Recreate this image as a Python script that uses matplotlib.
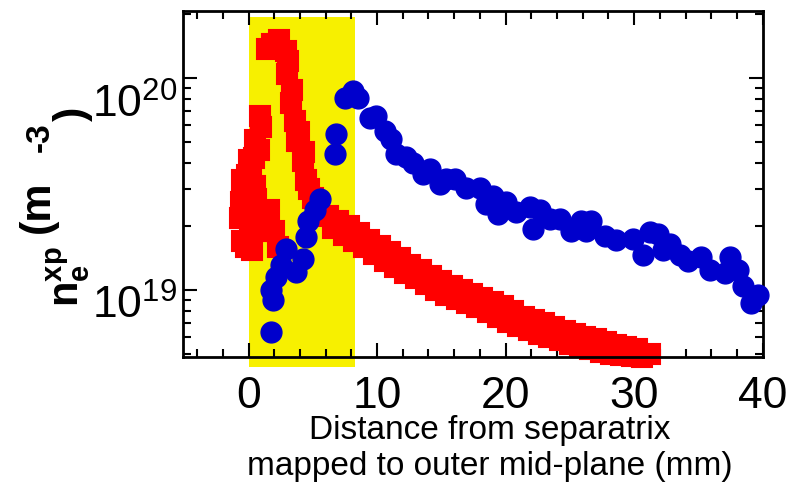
import matplotlib
matplotlib.use("Agg")
import matplotlib.pyplot as plt
from matplotlib.ticker import MultipleLocator, LogLocator, NullFormatter
from matplotlib.transforms import ScaledTranslation

plt.rcParams['font.family'] = ['Liberation Sans', 'DejaVu Sans']
plt.rcParams['mathtext.fontset'] = 'custom'
plt.rcParams['mathtext.rm'] = 'Liberation Sans'
plt.rcParams['mathtext.it'] = 'Liberation Sans:italic'
plt.rcParams['mathtext.bf'] = 'Liberation Sans:bold'

# blue circles
blue_x = [1.77, 1.89, 1.77, 2.15, 2.54, 2.93, 3.71, 4.23, 4.49, 4.62, 5.14, 5.53,
          6.69, 6.82, 7.47, 8.12, 8.51, 9.42, 9.94, 10.58, 11.1, 11.49, 12.27, 12.79,
          13.56, 14.08, 14.86, 15.38, 16.03, 16.94, 17.98, 18.5, 19.01, 19.4, 20.05,
          20.83, 21.87, 22.12, 22.65, 23.42, 24.2, 25.11, 25.89, 26.28, 26.67, 27.7,
          28.61, 29.91, 30.69, 31.21, 31.86, 32.25, 32.76, 33.54, 34.19, 35.23, 35.87,
          37.04, 37.43, 38.08, 38.47, 39.12, 39.63]
blue_y = [6.37e18, 8.97e18, 1.0e19, 1.15e19, 1.31e19, 1.57e19, 1.22e19, 1.41e19,
          1.78e19, 2.13e19, 2.38e19, 2.69e19, 4.39e19, 5.44e19, 8.09e19, 8.7e19,
          8.09e19, 6.52e19, 6.64e19, 5.64e19, 5.15e19, 4.39e19, 4.23e19, 4.0e19,
          3.53e19, 3.73e19, 3.16e19, 3.34e19, 3.34e19, 3.05e19, 3.05e19, 2.55e19,
          2.79e19, 2.29e19, 2.6e19, 2.33e19, 2.46e19, 1.95e19, 2.38e19, 2.17e19,
          2.17e19, 1.91e19, 2.13e19, 1.91e19, 2.13e19, 1.81e19, 1.72e19, 1.75e19,
          1.46e19, 1.88e19, 1.85e19, 1.54e19, 1.66e19, 1.46e19, 1.38e19, 1.43e19,
          1.24e19, 1.2e19, 1.43e19, 1.24e19, 1.05e19, 8.67e18, 9.48e18]

# red squares: cluster near the separatrix and upper branch
red_x = [-0.7, -0.6, -0.5, -0.4, -0.3, -0.2, -0.1, 0.0, 0.1, 0.2, 0.3, 0.4, 0.5,
         0.6, -0.5, 0.0, 0.3, 0.5, 1.0, 0.8, 1.6, 2.0, 2.3, 0.9, 0.6,
         1.4, 1.8, 2.4, 2.9, 2.2, 3.0, 3.3, 3.6, 3.8, 4.2, 4.5, 5.0, 5.5,
         3.1, 3.4, 3.9, 4.3, 4.7]
red_y = [2.2e19, 2.6e19, 1.7e19, 3.0e19, 2.4e19, 1.6e19, 3.5e19, 2.8e19, 2.0e19,
         3.8e19, 2.5e19, 4.2e19, 3.1e19, 1.9e19, 3.3e19, 4.1e19, 1.55e19, 5.1e19,
         5.9e19, 4.6e19, 2.4e19, 1.9e19, 1.6e19, 6.6e19, 2.7e19,
         1.38e20, 1.45e20, 1.52e20, 1.34e20, 1.45e20, 1.05e20, 7.6e19, 6.3e19,
         5.05e19, 4.07e19, 3.3e19, 2.73e19, 2.4e19,
         1.2e20, 8.8e19, 5.6e19, 4.5e19, 3.0e19]

# red squares: decaying band in the far SOL
band_x = [6.2, 7.0, 7.8, 8.6, 9.4, 10.2, 11.0, 11.8, 12.6, 13.4, 14.2, 15.0, 15.8,
          16.6, 17.4, 18.2, 19.0, 19.8, 20.6, 21.4, 22.2, 23.0, 23.8, 24.6, 25.4,
          26.2, 27.0, 27.8, 28.6, 29.4, 30.2,
          6.6, 7.4, 8.2, 9.0, 9.8, 10.6, 11.4, 12.2, 13.0, 13.8, 14.6, 15.4, 16.2,
          17.0, 17.8, 18.6, 19.4, 20.2, 21.0, 21.8, 22.6, 23.4, 24.2, 25.0, 25.8,
          26.6, 27.4, 28.2, 29.0, 29.8, 30.6, 31.2]
band_y = [2.25e19, 2.12e19, 2.0e19, 1.86e19, 1.72e19, 1.62e19, 1.52e19, 1.42e19,
          1.32e19, 1.24e19, 1.17e19, 1.11e19, 1.05e19, 1.0e19, 9.6e18, 9.2e18,
          8.8e18, 8.4e18, 8.0e18, 7.5e18, 7.2e18, 7.0e18, 6.7e18, 6.4e18, 6.2e18,
          6.0e18, 5.9e18, 5.7e18, 5.5e18, 5.4e18, 5.3e18,
          1.96e19, 1.82e19, 1.7e19, 1.6e19, 1.48e19, 1.38e19, 1.29e19, 1.21e19,
          1.14e19, 1.07e19, 1.0e19, 9.5e18, 9.1e18, 8.7e18, 8.3e18, 7.9e18, 7.5e18,
          7.1e18, 6.8e18, 6.5e18, 6.2e18, 6.0e18, 5.8e18, 5.6e18, 5.4e18, 5.25e18,
          5.1e18, 5.0e18, 4.95e18, 4.9e18, 4.85e18, 5.0e18]

shade = (0.0, 8.3)
yticks = [1e19, 1e20]

fig = plt.figure(figsize=(7.92, 4.87), dpi=100)
ax = fig.add_axes([0.231, 0.267, 0.732, 0.710])

ax.axvspan(shade[0], shade[1], ymin=-0.029, ymax=0.983, color='#F7F000',
           lw=0, zorder=0, clip_on=False)

ax.plot(red_x + band_x, red_y + band_y, 's', ms=14, mfc='#FF0000', mec='#FF0000',
        mew=1.5, clip_on=False, zorder=2)
ax.plot(blue_x, blue_y, 'o', ms=15, color='#0000CC', mec='#0000CC',
        clip_on=False, zorder=3)

ax.set_yscale('log')
ax.set_xlim(-5.1, 40)
ax.set_ylim(4.84e18, 2.07e20)

ax.xaxis.set_major_locator(MultipleLocator(10))
ax.xaxis.set_minor_locator(MultipleLocator(2))
ax.set_yticks(yticks)
ax.yaxis.set_minor_locator(LogLocator(base=10, subs=range(2, 10)))
ax.yaxis.set_minor_formatter(NullFormatter())

ax.tick_params(which='both', direction='in', top=True, right=True, width=1.5)
ax.tick_params(which='major', length=10, labelsize=32)
ax.tick_params(which='minor', length=6)
ax.tick_params(axis='x', pad=14)
ax.tick_params(axis='y', pad=4)
for s in ax.spines.values():
    s.set_linewidth(2)

# the power-of-ten labels sit a little below their ticks in the original
for tick, dy in zip(ax.yaxis.get_major_ticks(), [11, 22]):
    lab = tick.label1
    lab.set_transform(lab.get_transform()
                      + ScaledTranslation(0, -dy / 100, fig.dpi_scale_trans))

ax.set_xlabel('Distance from separatrix\nmapped to outer mid-plane (mm)',
              fontsize=24, linespacing=1.2)
ax.xaxis.set_label_coords(0.529, -0.168)

# y label drawn in pieces: "(m -3" is raised relative to n_e^xp and ")"
fig.text(92 / 792, 1 - 307 / 487, r'$\mathbf{n_e^{xp}}$', fontsize=30,
         rotation=90, ha='right', va='bottom')
fig.text(58 / 792, 1 - 233 / 487, '(m', fontsize=31, fontweight='bold',
         rotation=90, ha='right', va='bottom')
fig.text(56 / 792, 1 - 152 / 487, '-3', fontsize=24, fontweight='bold',
         rotation=90, ha='right', va='bottom')
fig.text(93 / 792, 1 - 121 / 487, ')', fontsize=31, fontweight='bold',
         rotation=90, ha='right', va='bottom')

fig.savefig('out.png', dpi=100)
